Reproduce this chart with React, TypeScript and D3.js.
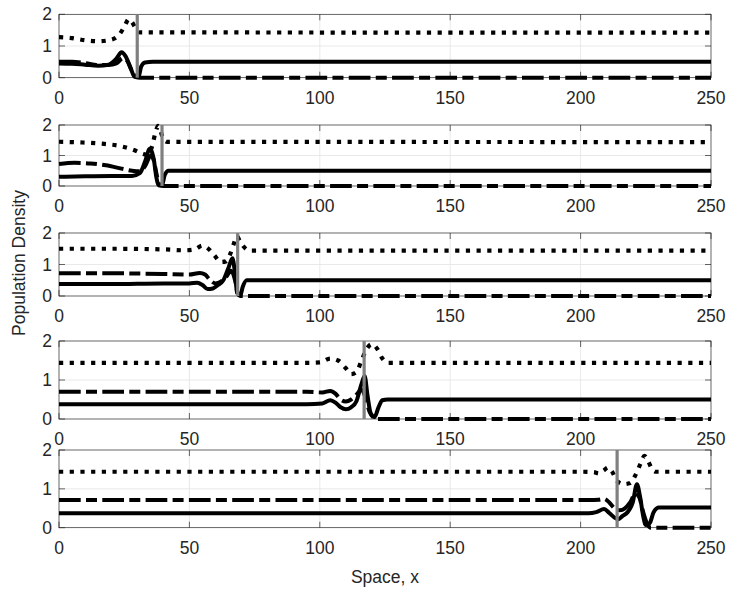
import React from 'react';
import * as d3 from 'd3';

type Pt = [number, number];

const xTicks = [0, 50, 100, 150, 200, 250];
const yTicks = [0, 1, 2];
const xLabel = 'Space, x';
const yLabel = 'Population Density';

// front positions (gray vertical line) per panel
const fronts = [30, 39.5, 68.5, 117, 214];

// Panel 1
const p1Solid: Pt[] = [[0, 0.45], [5, 0.44], [10, 0.41], [15, 0.38], [19, 0.41], [22, 0.6], [24, 0.8], [25.5, 0.68], [27.5, 0.3], [29, 0.03], [30.5, 0.02], [31.5, 0.35], [33, 0.48], [36, 0.5], [250, 0.5]];
const p1DashDot: Pt[] = [[0, 0.5], [5, 0.5], [10, 0.46], [15, 0.4], [19, 0.4], [22, 0.45], [24.5, 0.62], [26, 0.55], [28, 0.2], [29.5, 0.02], [31, 0], [250, 0]];
const p1Dotted: Pt[] = [[0, 1.28], [5, 1.25], [10, 1.18], [15, 1.15], [20, 1.2], [23, 1.35], [25, 1.6], [26.8, 1.85], [28, 1.75], [29.5, 1.55], [31, 1.43], [250, 1.42]];

// Panel 2
const p2Solid: Pt[] = [[0, 0.3], [10, 0.32], [20, 0.33], [28, 0.33], [31, 0.42], [33, 0.8], [34.8, 1.22], [36.3, 0.9], [37.3, 0.3], [38.3, 0.02], [39.5, 0.02], [40.5, 0.35], [42, 0.5], [250, 0.5]];
const p2DashDot: Pt[] = [[0, 0.72], [6, 0.76], [12, 0.74], [18, 0.68], [24, 0.57], [28, 0.5], [31, 0.48], [33, 0.65], [35.2, 1.0], [36.3, 0.85], [37.5, 0.35], [38.5, 0.05], [40, 0], [250, 0]];
const p2Dotted: Pt[] = [[0, 1.45], [8, 1.43], [16, 1.39], [24, 1.3], [29, 1.17], [32, 1.06], [34, 1.02], [35.5, 1.25], [37, 1.75], [38, 1.97], [39, 1.78], [40, 1.55], [41.5, 1.45], [250, 1.44]];

// Panel 3
const p3Solid: Pt[] = [[0, 0.38], [20, 0.38], [40, 0.4], [50, 0.4], [53, 0.42], [55, 0.35], [57, 0.22], [59, 0.24], [61, 0.35], [63, 0.5], [65, 0.9], [66.5, 1.2], [67.5, 0.7], [68.3, 0.1], [69.5, 0.02], [70.5, 0.3], [72, 0.5], [250, 0.5]];
const p3DashDot: Pt[] = [[0, 0.72], [20, 0.72], [40, 0.7], [50, 0.68], [54, 0.73], [56, 0.68], [58, 0.5], [60, 0.4], [62, 0.45], [64, 0.6], [66, 0.8], [67.5, 0.5], [68.5, 0.1], [69.5, 0], [250, 0]];
const p3Dotted: Pt[] = [[0, 1.5], [20, 1.5], [40, 1.48], [48, 1.45], [52, 1.48], [55, 1.6], [57, 1.52], [59.5, 1.3], [62, 1.08], [64, 1.1], [65.5, 1.3], [67, 1.65], [68.2, 1.9], [69.3, 1.75], [71, 1.55], [73, 1.44], [250, 1.44]];

// Panel 4
const p4Solid: Pt[] = [[0, 0.38], [95, 0.38], [101, 0.4], [104, 0.48], [106, 0.42], [108, 0.3], [110, 0.25], [112, 0.3], [114, 0.45], [116, 0.9], [117.2, 1.1], [118.3, 0.6], [119.5, 0.15], [121, 0.05], [122.5, 0.3], [124, 0.48], [126, 0.5], [250, 0.5]];
const p4DashDot: Pt[] = [[0, 0.7], [95, 0.7], [101, 0.68], [104, 0.72], [106, 0.65], [108, 0.5], [110, 0.45], [112, 0.5], [114, 0.62], [116, 0.75], [117.5, 0.55], [119, 0.2], [121, 0.02], [122, 0], [250, 0]];
const p4Dotted: Pt[] = [[0, 1.44], [95, 1.44], [100, 1.45], [104, 1.55], [107, 1.5], [110, 1.3], [112, 1.15], [114, 1.2], [116, 1.5], [118, 1.8], [120, 1.92], [122, 1.8], [124, 1.55], [126, 1.44], [250, 1.44]];

// Panel 5
const p5Solid: Pt[] = [[0, 0.37], [203, 0.37], [206, 0.4], [209, 0.48], [211, 0.38], [213, 0.26], [214.5, 0.22], [216, 0.3], [218, 0.4], [220, 0.65], [221.6, 1.12], [222.8, 0.8], [224, 0.3], [225, 0.07], [226.5, 0.12], [228, 0.4], [230, 0.52], [250, 0.52]];
const p5DashDot: Pt[] = [[0, 0.71], [203, 0.71], [207, 0.72], [209, 0.74], [211, 0.65], [213, 0.5], [215, 0.45], [217, 0.5], [219, 0.65], [221, 0.88], [222.5, 0.78], [224, 0.4], [225.5, 0.1], [227, 0], [250, 0]];
const p5Dotted: Pt[] = [[0, 1.44], [200, 1.44], [205, 1.43], [207, 1.4], [209, 1.48], [210.5, 1.55], [212, 1.45], [214, 1.2], [216.5, 1.12], [219, 1.15], [221, 1.35], [223, 1.65], [224.5, 1.85], [226, 1.7], [227.5, 1.5], [229, 1.44], [250, 1.44]];

const solids = [p1Solid, p2Solid, p3Solid, p4Solid, p5Solid];
const dashDots = [p1DashDot, p2DashDot, p3DashDot, p4DashDot, p5DashDot];
const dotteds = [p1Dotted, p2Dotted, p3Dotted, p4Dotted, p5Dotted];

const W = 729;
const H = 595;
const LEFT = 59;
const RIGHT = 711;
const panelBox = [
  [14.3, 77.7],
  [125, 186],
  [233, 296],
  [341, 419],
  [450, 527.7],
];

const FONT = '"Liberation Sans", Arial, Helvetica, sans-serif';
const TXT = '#262626';

function Panel({ i }: { i: number }) {
  const [top, bottom] = panelBox[i];
  const x = d3.scaleLinear().domain([0, 250]).range([LEFT, RIGHT]);
  const y = d3.scaleLinear().domain([0, 2]).range([bottom, top]);
  const line = d3
    .line<Pt>()
    .x((d) => x(d[0]))
    .y((d) => y(d[1]))
    .curve(d3.curveMonotoneX);
  const tick = 6;
  return (
    <g>
      {/* grid */}
      {xTicks.slice(1, -1).map((t) => (
        <line key={'gx' + t} x1={x(t)} x2={x(t)} y1={top} y2={bottom} stroke="#e3e3e3" strokeWidth={0.8} />
      ))}
      {yTicks.slice(1, -1).map((t) => (
        <line key={'gy' + t} x1={LEFT} x2={RIGHT} y1={y(t)} y2={y(t)} stroke="#e3e3e3" strokeWidth={0.8} />
      ))}
      {/* box */}
      <rect x={LEFT} y={top} width={RIGHT - LEFT} height={bottom - top} fill="none" stroke={TXT} strokeWidth={0.7} />
      {/* ticks */}
      {xTicks.map((t) => (
        <g key={'tx' + t}>
          <line x1={x(t)} x2={x(t)} y1={bottom} y2={bottom - tick} stroke={TXT} strokeWidth={0.7} />
          <line x1={x(t)} x2={x(t)} y1={top} y2={top + tick} stroke={TXT} strokeWidth={0.7} />
          <text x={x(t)} y={bottom + 26} textAnchor="middle" fontFamily={FONT} fontSize={17.5} fill={TXT}>
            {t}
          </text>
        </g>
      ))}
      {yTicks.map((t) => (
        <g key={'ty' + t}>
          <line x1={LEFT} x2={LEFT + tick} y1={y(t)} y2={y(t)} stroke={TXT} strokeWidth={0.7} />
          <line x1={RIGHT} x2={RIGHT - tick} y1={y(t)} y2={y(t)} stroke={TXT} strokeWidth={0.7} />
          <text x={LEFT - 7} y={y(t)} dy="0.35em" textAnchor="end" fontFamily={FONT} fontSize={17.5} fill={TXT}>
            {t}
          </text>
        </g>
      ))}
      {/* data */}
      <path d={line(solids[i]) || ''} fill="none" stroke="#000" strokeWidth={4} strokeLinejoin="round" />
      <path d={line(dashDots[i]) || ''} fill="none" stroke="#000" strokeWidth={4} strokeDasharray="21.7 5.3 11 5.3" />
      <path d={line(dotteds[i]) || ''} fill="none" stroke="#000" strokeWidth={4.2} strokeDasharray="4.2 6.5" />
      <line x1={x(fronts[i])} x2={x(fronts[i])} y1={y(0)} y2={y(2)} stroke="#808080" strokeWidth={3.2} />
    </g>
  );
}

export default function App() {
  return (
    <svg width={W} height={H} style={{ position: 'absolute', left: 0, top: 0, background: '#fff' }}>
      <rect x={0} y={0} width={W} height={H} fill="#fff" />
      {panelBox.map((_, i) => (
        <Panel key={i} i={i} />
      ))}
      <text x={(LEFT + RIGHT) / 2} y={583} textAnchor="middle" fontFamily={FONT} fontSize={17.5} fill={TXT}>
        {xLabel}
      </text>
      <text
        transform={`translate(25, 263) rotate(-90)`}
        textAnchor="middle"
        fontFamily={FONT}
        fontSize={17.5}
        fill={TXT}
      >
        {yLabel}
      </text>
    </svg>
  );
}
